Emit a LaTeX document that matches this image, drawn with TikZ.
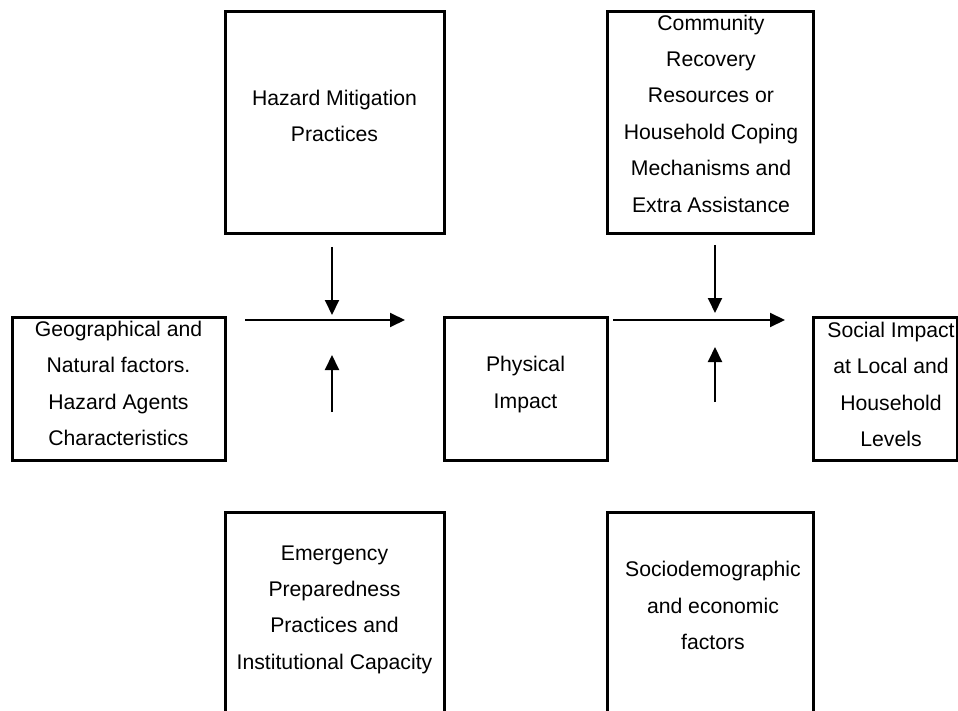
\documentclass[tikz,border=0pt]{standalone}
\usepackage{fontspec}
\setmainfont{Liberation Sans}
\usetikzlibrary{arrows.meta}
\newcommand\lnst{\rule[-5.3pt]{0pt}{24.4pt}}
\begin{document}
\begin{tikzpicture}[x=1pt,y=-1pt,
  box/.style={draw, line width=3pt, rectangle, inner sep=0pt},
  txt/.style={align=center, font=\fontsize{21.2pt}{36.4pt}\selectfont, inner sep=0pt,
    execute at begin node=\lnst, execute at end node=\lnst},
  arr/.style={line width=2pt, -{Triangle[width=14pt,length=15pt]}}]
\useasboundingbox (0,0) rectangle (958,711);
\clip (0,0) rectangle (958,711);
% boxes
\node[box, minimum width=213pt, minimum height=143pt] (geo) at (118.5,388.5) {};
\node[box, minimum width=219pt, minimum height=222pt] (haz) at (334.5,123) {};
\node[box, minimum width=163pt, minimum height=143pt] (phy) at (525.5,388.5) {};
\node[box, minimum width=206pt, minimum height=222pt] (com) at (710,123) {};
\node[box, minimum width=144pt, minimum height=143pt] (soc) at (885,388.5) {};
\node[box, minimum width=219pt, minimum height=228pt] (emg) at (334.5,626) {};
\node[box, minimum width=206pt, minimum height=228pt] (sde) at (710,626) {};
% texts
\node[txt] (geot) at (118.5,386) {Geographical and\\Natural factors.\\Hazard Agents\\Characteristics};
\node[txt] (hazt) at (334.5,118.5) {Hazard Mitigation\\Practices};
\node[txt] (phyt) at (525.5,385) {Physical\\Impact};
\node[txt] (comt) at (711,116) {Community\\Recovery\\Resources or\\Household Coping\\Mechanisms and\\Extra Assistance};
\node[txt] (soct) at (891,387) {Social Impact\\at Local and\\Household\\Levels};
\node[txt] (emgt) at (334.5,610) {Emergency\\Preparedness\\Practices and\\Institutional Capacity};
\node[txt] (sdet) at (713,608) {Sociodemographic\\and economic\\factors};
% arrow end points
\coordinate (lhs) at (245,320);
\coordinate (lhe) at (405,320);
\coordinate (lds) at (332,247);
\coordinate (lde) at (332,315);
\coordinate (lus) at (332,412);
\coordinate (lue) at (332,355);
\coordinate (rhs) at (613,320);
\coordinate (rhe) at (785,320);
\coordinate (rds) at (715,245);
\coordinate (rde) at (715,313);
\coordinate (rus) at (715,402);
\coordinate (rue) at (715,347);
% arrows
\draw[arr] (lhs) -- (lhe);
\draw[arr] (lds) -- (lde);
\draw[arr] (lus) -- (lue);
\draw[arr] (rhs) -- (rhe);
\draw[arr] (rds) -- (rde);
\draw[arr] (rus) -- (rue);
\end{tikzpicture}
\end{document}
